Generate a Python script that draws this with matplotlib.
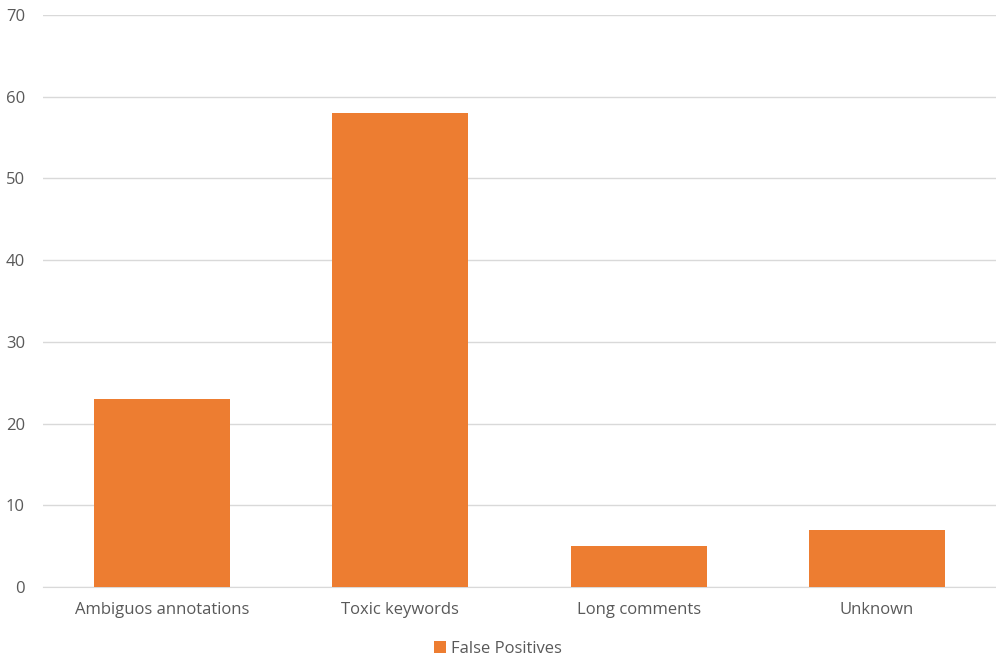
import numpy as np
import matplotlib
matplotlib.use("Agg")
import matplotlib.pyplot as plt
from matplotlib.patches import Patch

plt.rcParams['font.family'] = ['Open Sans', 'DejaVu Sans']

# data
categories = ["Ambiguos annotations", "Toxic keywords", "Long comments", "Unknown"]
false_positives = [23, 58, 5, 7]
yticks = [0, 10, 20, 30, 40, 50, 60, 70]

BAR_COLOR = "#ED7D31"
TEXT_COLOR = "#595959"
GRID_COLOR = "#D9D9D9"

fig = plt.figure(figsize=(9.96, 6.59), dpi=100)
# plot area: x 43..996 px, y 15..587 px
ax = fig.add_axes([43 / 996, (659 - 587) / 659, (996 - 43) / 996, (587 - 15) / 659])

x = np.arange(len(categories))
ax.bar(x, false_positives, width=0.571, color=BAR_COLOR, zorder=3)

ax.set_xlim(-0.5, len(categories) - 0.5)
ax.set_ylim(0, 70)
ax.set_yticks(yticks)
ax.set_xticks(x)
ax.set_xticklabels(categories)
ax.yaxis.grid(True, color=GRID_COLOR, linewidth=1, zorder=0)
ax.set_axisbelow(True)

for side in ["top", "right", "left"]:
    ax.spines[side].set_visible(False)
ax.spines["bottom"].set_color(GRID_COLOR)
ax.tick_params(axis="both", length=0, labelsize=12, colors=TEXT_COLOR)
ax.tick_params(axis="x", pad=11)
ax.tick_params(axis="y", pad=13)

handles = [Patch(facecolor=BAR_COLOR, label="False Positives")]
fig.legend(handles=handles, loc="center", bbox_to_anchor=(0.5, (659 - 649) / 659),
           frameon=False, fontsize=12, labelcolor=TEXT_COLOR,
           handlelength=0.7, handleheight=0.7, handletextpad=0.3)

fig.savefig("out.png", dpi=100)
